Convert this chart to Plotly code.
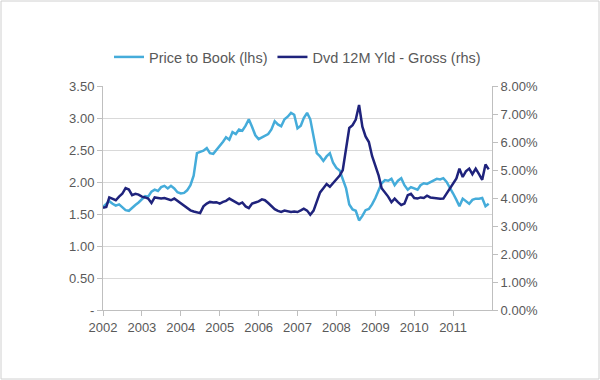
import plotly.graph_objects as go
import pandas as pd

months = pd.date_range("2002-01-01", "2011-12-01", freq="MS")

price_to_book = [
    1.61, 1.65, 1.70, 1.66, 1.63, 1.65, 1.60, 1.56, 1.55, 1.60, 1.64, 1.68,
    1.73, 1.78, 1.77, 1.85, 1.88, 1.86, 1.92, 1.94, 1.90, 1.94, 1.90, 1.84,
    1.82, 1.83, 1.87, 1.95, 2.10, 2.45, 2.47, 2.49, 2.53, 2.45, 2.44, 2.50,
    2.58, 2.63, 2.70, 2.66, 2.78, 2.75, 2.82, 2.80, 2.88, 2.98, 2.86, 2.73,
    2.67, 2.70, 2.73, 2.75, 2.82, 2.95, 2.90, 2.87, 2.98, 3.02, 3.08, 3.05,
    2.84, 2.88, 3.00, 3.08, 2.98, 2.70, 2.45, 2.40, 2.33, 2.40, 2.45, 2.30,
    2.22, 2.18, 2.05, 1.90, 1.65, 1.57, 1.55, 1.40, 1.47, 1.56, 1.58, 1.65,
    1.75, 1.88, 1.98, 2.03, 2.02, 2.05, 1.95, 2.02, 2.06, 1.95, 1.88, 1.92,
    1.90, 1.88, 1.95, 1.98, 1.97, 2.00, 2.02, 2.05, 2.04, 2.06, 2.00, 1.90,
    1.82, 1.72, 1.62, 1.74, 1.70, 1.66, 1.72, 1.74, 1.74, 1.75, 1.62, 1.66,
]

dvd_yield_pct = [
    3.65, 3.68, 4.02, 3.98, 3.92, 4.05, 4.15, 4.35, 4.30, 4.10, 4.15, 4.12,
    4.05, 4.02, 3.98, 3.82, 4.02, 4.00, 3.98, 4.00, 3.95, 3.92, 3.98, 3.90,
    3.82, 3.72, 3.66, 3.56, 3.52, 3.50, 3.46, 3.70, 3.80, 3.86, 3.84, 3.85,
    3.80, 3.86, 3.90, 3.98, 3.92, 3.85, 3.78, 3.84, 3.70, 3.64, 3.80, 3.84,
    3.88, 3.95, 3.92, 3.82, 3.70, 3.60, 3.54, 3.50, 3.55, 3.52, 3.50, 3.52,
    3.50, 3.56, 3.62, 3.55, 3.40, 3.55, 3.90, 4.20, 4.35, 4.50, 4.40, 4.52,
    4.65, 4.80, 5.00, 5.80, 6.50, 6.60, 6.80, 7.32, 6.55, 6.20, 6.00, 5.50,
    5.15, 4.80, 4.35, 4.20, 4.05, 3.85, 3.98, 3.85, 3.75, 3.80, 4.10, 4.15,
    4.00, 3.98, 4.02, 4.00, 4.08, 4.02, 4.00, 3.98, 3.97, 3.98, 4.15, 4.35,
    4.50, 4.70, 5.05, 4.75, 4.95, 5.05, 4.85, 5.05, 4.85, 4.65, 5.20, 5.02,
]
dvd_yield = [v / 100 for v in dvd_yield_pct]

left_ticks = [0, 0.5, 1.0, 1.5, 2.0, 2.5, 3.0, 3.5]
left_labels = ["-", "0.50", "1.00", "1.50", "2.00", "2.50", "3.00", "3.50"]
right_ticks = [0, 0.01, 0.02, 0.03, 0.04, 0.05, 0.06, 0.07, 0.08]
right_labels = ["0.00%", "1.00%", "2.00%", "3.00%", "4.00%", "5.00%", "6.00%", "7.00%", "8.00%"]
year_ticks = [f"{y}-01-01" for y in range(2002, 2012)]
year_labels = [str(y) for y in range(2002, 2012)]

light = "#45ACDA"
dark = "#1F237C"
txt = "#595959"
axis_c = "#BFBFBF"

fig = go.Figure()
fig.add_trace(go.Scatter(x=months, y=price_to_book, name="Price to Book (lhs)",
                         mode="lines", line=dict(color=light, width=2.5), yaxis="y"))
fig.add_trace(go.Scatter(x=months, y=dvd_yield, name="Dvd 12M Yld - Gross (rhs)",
                         mode="lines", line=dict(color=dark, width=2.5), yaxis="y2"))

L, R, T, B = 103, 108, 86, 70
W, H = 600, 380
pw, ph = W - L - R, H - T - B

fig.update_layout(
    width=W, height=H,
    margin=dict(l=L, r=R, t=T, b=B),
    paper_bgcolor="white", plot_bgcolor="white",
    font=dict(family="Liberation Sans, Arial, sans-serif", size=13, color=txt),
    showlegend=True,
    legend=dict(orientation="h", x=0.5, xanchor="center", y=1 + 29 / ph, yanchor="middle",
                font=dict(size=14.5, color=txt), itemwidth=30, tracegroupgap=0,
                bgcolor="rgba(0,0,0,0)"),
    xaxis=dict(type="date", range=["2002-01-01", "2012-01-01"],
               tickvals=year_ticks, ticktext=year_labels,
               showgrid=False, showline=True, linecolor=axis_c, linewidth=1,
               ticks="outside", ticklen=5, tickcolor=axis_c,
               tickfont=dict(size=13, color=txt), zeroline=False),
    yaxis=dict(range=[0, 3.5], tickvals=left_ticks, ticktext=left_labels,
               showgrid=True, gridcolor="#D9D9D9", gridwidth=1,
               showline=True, linecolor=axis_c, linewidth=1,
               ticks="outside", ticklen=5, tickcolor=axis_c,
               tickfont=dict(size=13, color=txt), zeroline=False),
    yaxis2=dict(range=[0, 0.08], tickvals=right_ticks, ticktext=right_labels,
                overlaying="y", side="right", showgrid=False,
                showline=True, linecolor=axis_c, linewidth=1,
                ticks="outside", ticklen=5, tickcolor=axis_c,
                tickfont=dict(size=13, color=txt), zeroline=False),
    shapes=[dict(type="rect", xref="paper", yref="paper",
                 x0=-(L - 1) / pw, x1=1 + (R - 1) / pw,
                 y0=-(B - 1) / ph, y1=1 + (T - 1) / ph,
                 line=dict(color="#D0D0D0", width=1), fillcolor="rgba(0,0,0,0)",
                 layer="below")],
)

fig.write_html("out.html", config={"displayModeBar": False},
               post_script="document.body.style.margin='0px';document.body.style.padding='0px';")
